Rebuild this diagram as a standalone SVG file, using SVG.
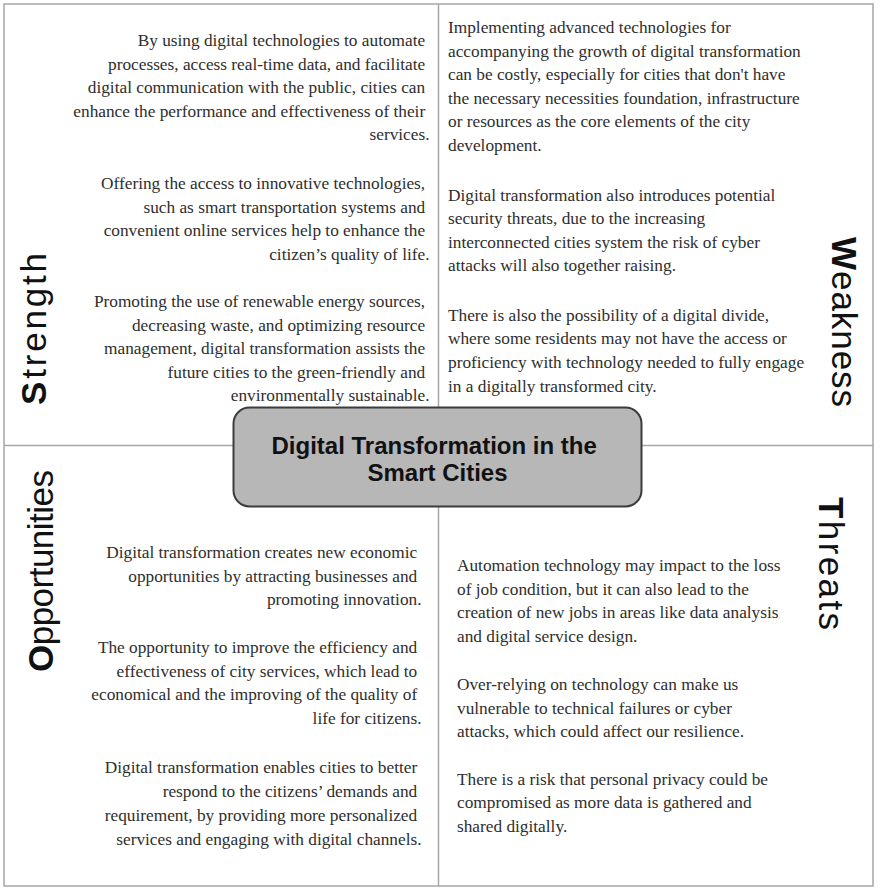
<svg xmlns="http://www.w3.org/2000/svg" width="882" height="894" viewBox="0 0 882 894">
  <style>
    .frame { fill: none; stroke: #a6a6a6; stroke-width: 1.5; }
    .body { font-family: "Liberation Serif", "Times New Roman", serif; font-size: 17.3px; fill: #2e2e2e; }
    .right { text-anchor: end; }
    .label { font-family: "Liberation Sans", Arial, sans-serif; font-size: 35px; fill: #111; text-anchor: middle; }
    .label .initial { font-weight: bold; }
    .hub { fill: #b7b7b7; stroke: #3c3c3c; stroke-width: 2; }
    .hub-text { font-family: "Liberation Sans", Arial, sans-serif; font-size: 24px; font-weight: bold; fill: #111; text-anchor: middle; }
  </style>

  <rect width="882" height="894" fill="#ffffff"/>

  <!-- quadrant frame and dividers -->
  <g id="connectors">
    <rect class="frame" x="4" y="4" width="869" height="882"/>
    <line class="frame" x1="438.5" y1="4" x2="438.5" y2="886"/>
    <line class="frame" x1="4" y1="445.5" x2="873" y2="445.5"/>
  </g>

  <!-- Strength -->
  <g id="strength">
    <text class="label" transform="translate(45.5,329) rotate(-90)" textLength="152"><tspan class="initial">S</tspan>trength</text>
    <text class="body right">
      <tspan x="429.5" y="46">By using digital technologies to automate</tspan>
      <tspan x="429.5" dy="23.6">processes, access real-time data, and facilitate</tspan>
      <tspan x="429.5" dy="23.6">digital communication with the public, cities can</tspan>
      <tspan x="429.5" dy="23.6">enhance the performance and effectiveness of their</tspan>
      <tspan x="429.5" dy="23.6">services.</tspan>
    </text>
    <text class="body right">
      <tspan x="429.5" y="189">Offering the access to innovative technologies,</tspan>
      <tspan x="429.5" dy="23.6">such as smart transportation systems and</tspan>
      <tspan x="429.5" dy="23.6">convenient online services help to enhance the</tspan>
      <tspan x="429.5" dy="23.6">citizen’s quality of life.</tspan>
    </text>
    <text class="body right">
      <tspan x="429.5" y="307">Promoting the use of renewable energy sources,</tspan>
      <tspan x="429.5" dy="23.6">decreasing waste, and optimizing resource</tspan>
      <tspan x="429.5" dy="23.6">management, digital transformation assists the</tspan>
      <tspan x="429.5" dy="23.6">future cities to the green-friendly and</tspan>
      <tspan x="429.5" dy="23.6">environmentally sustainable.</tspan>
    </text>
  </g>

  <!-- Weakness -->
  <g id="weakness">
    <text class="label" transform="translate(832,322) rotate(90)" textLength="170"><tspan class="initial">W</tspan>eakness</text>
    <text class="body">
      <tspan x="448" y="33">Implementing advanced technologies for</tspan>
      <tspan x="448" dy="23.6">accompanying the growth of digital transformation</tspan>
      <tspan x="448" dy="23.6">can be costly, especially for cities that don't have</tspan>
      <tspan x="448" dy="23.6">the necessary necessities foundation, infrastructure</tspan>
      <tspan x="448" dy="23.6">or resources as the core elements of the city</tspan>
      <tspan x="448" dy="23.6">development.</tspan>
    </text>
    <text class="body">
      <tspan x="448" y="200.5">Digital transformation also introduces potential</tspan>
      <tspan x="448" dy="23.6">security threats, due to the increasing</tspan>
      <tspan x="448" dy="23.6">interconnected cities system the risk of cyber</tspan>
      <tspan x="448" dy="23.6">attacks will also together raising.</tspan>
    </text>
    <text class="body">
      <tspan x="448" y="320.5">There is also the possibility of a digital divide,</tspan>
      <tspan x="448" dy="23.7">where some residents may not have the access or</tspan>
      <tspan x="448" dy="23.7">proficiency with technology needed to fully engage</tspan>
      <tspan x="448" dy="23.7">in a digitally transformed city.</tspan>
    </text>
  </g>

  <!-- Opportunities -->
  <g id="opportunities">
    <text class="label" transform="translate(52.5,571) rotate(-90)" textLength="202"><tspan class="initial">O</tspan>pportunities</text>
    <text class="body right">
      <tspan x="421.5" y="558">Digital transformation creates new economic</tspan>
      <tspan x="421.5" dy="23.6">opportunities by attracting businesses and</tspan>
      <tspan x="421.5" dy="23.6">promoting innovation.</tspan>
    </text>
    <text class="body right">
      <tspan x="421.5" y="653">The opportunity to improve the efficiency and</tspan>
      <tspan x="421.5" dy="23.7">effectiveness of city services, which lead to</tspan>
      <tspan x="421.5" dy="23.7">economical and the improving of the quality of</tspan>
      <tspan x="421.5" dy="23.7">life for citizens.</tspan>
    </text>
    <text class="body right">
      <tspan x="421.5" y="773">Digital transformation enables cities to better</tspan>
      <tspan x="421.5" dy="24">respond to the citizens’ demands and</tspan>
      <tspan x="421.5" dy="24">requirement, by providing more personalized</tspan>
      <tspan x="421.5" dy="24">services and engaging with digital channels.</tspan>
    </text>
  </g>

  <!-- Threats -->
  <g id="threats">
    <text class="label" transform="translate(819,563.5) rotate(90)" textLength="133"><tspan class="initial">T</tspan>hreats</text>
    <text class="body">
      <tspan x="457" y="571">Automation technology may impact to the loss</tspan>
      <tspan x="457" dy="23.5">of job condition, but it can also lead to the</tspan>
      <tspan x="457" dy="23.5">creation of new jobs in areas like data analysis</tspan>
      <tspan x="457" dy="23.5">and digital service design.</tspan>
    </text>
    <text class="body">
      <tspan x="457" y="690">Over-relying on technology can make us</tspan>
      <tspan x="457" dy="23.5">vulnerable to technical failures or cyber</tspan>
      <tspan x="457" dy="23.5">attacks, which could affect our resilience.</tspan>
    </text>
    <text class="body">
      <tspan x="457" y="784.5">There is a risk that personal privacy could be</tspan>
      <tspan x="457" dy="23.7">compromised as more data is gathered and</tspan>
      <tspan x="457" dy="23.7">shared digitally.</tspan>
    </text>
  </g>

  <!-- central topic -->
  <g id="topic">
    <rect class="hub" x="233.5" y="407.5" width="408" height="99" rx="16" ry="16"/>
    <text class="hub-text">
      <tspan x="437.5" y="453.5">Digital Transformation in the</tspan>
      <tspan x="437.5" y="481">Smart Cities</tspan>
    </text>
  </g>
</svg>
